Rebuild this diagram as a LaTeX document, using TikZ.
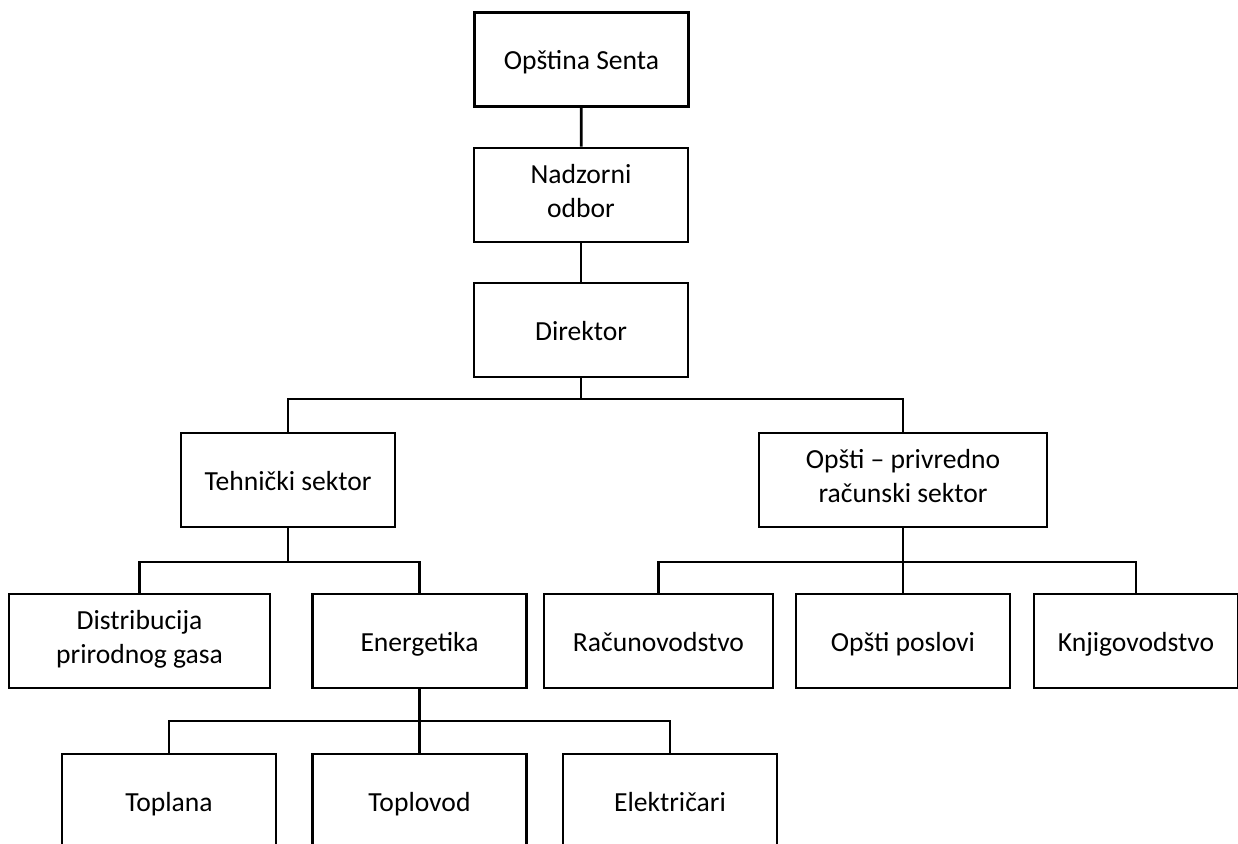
\documentclass[tikz,border=0pt]{standalone}
\usepackage{fontspec}
\setmainfont{Carlito}
\usetikzlibrary{positioning}
\def\boxw{214}
\def\boxh{94}
\def\bstrut{\rule[-5.5pt]{0pt}{26pt}}
\tikzset{box/.style={draw, line width=2pt, align=center, inner sep=0pt,
    minimum width=\boxw*0.75pt, minimum height=\boxh*0.75pt,
    execute at begin node=\bstrut, execute at end node=\bstrut,
    font=\fontsize{20.7}{25.5}\selectfont}}
\tikzset{link/.style={line width=2pt}}

\begin{document}
\begin{tikzpicture}[x=0.75pt,y=-0.75pt]
  \useasboundingbox (0,0) rectangle (1238,843);

  \node[box] (osenta) at (581.5,59.5) {Opština Senta};
  \node[box] (nodbor) at (581,195) {Nadzorni\\odbor};
  \node[box] (dir) at (581,330) {Direktor};

  \node[box] (teh) at (288,480) {Tehnički sektor};
  \node[box, minimum width=288*0.75pt] (opr) at (903,480) {Opšti – privredno\\računski sektor};

  \node[box, minimum width=261*0.75pt] (dist) at (139.5,641) {Distribucija\\prirodnog gasa};
  \node[box] (ener) at (419.5,641) {Energetika};
  \node[box, minimum width=229*0.75pt] (racun) at (658.5,641) {Računovodstvo};
  \node[box] (oposl) at (903,641) {Opšti poslovi};
  \node[box, minimum width=204*0.75pt] (knjig) at (1136,641) {Knjigovodstvo};

  \foreach \name/\x/\txt in {topl/169/Toplana, tvod/419.5/Toplovod, elek/670/Električari}
  \node[box] (\name) at (\x,801) {\txt};

  %%% Connectors %%%

  \coordinate (bdir) at (581,399);
  \coordinate (bteh) at (288,562);
  \coordinate (bopr) at (903,562);
  \coordinate (bener) at (419.5,721);

  \draw[link] (osenta) -- (nodbor);
  \draw[link] (nodbor) -- (dir);
  \draw[link] (dir) -- (bdir);
  \draw[link] (teh.north) |- (bdir) -| (opr.north);

  \draw[link] (teh) -- (bteh);
  \draw[link] (dist.north) |- (bteh) -| (ener.north);

  \draw[link] (opr) -- (oposl);
  \draw[link] (racun.north) |- (bopr) -| (knjig.north);

  \draw[link] (ener) -- (tvod);
  \draw[link] (topl.north) |- (bener) -| (elek.north);
\end{tikzpicture}
\end{document}
